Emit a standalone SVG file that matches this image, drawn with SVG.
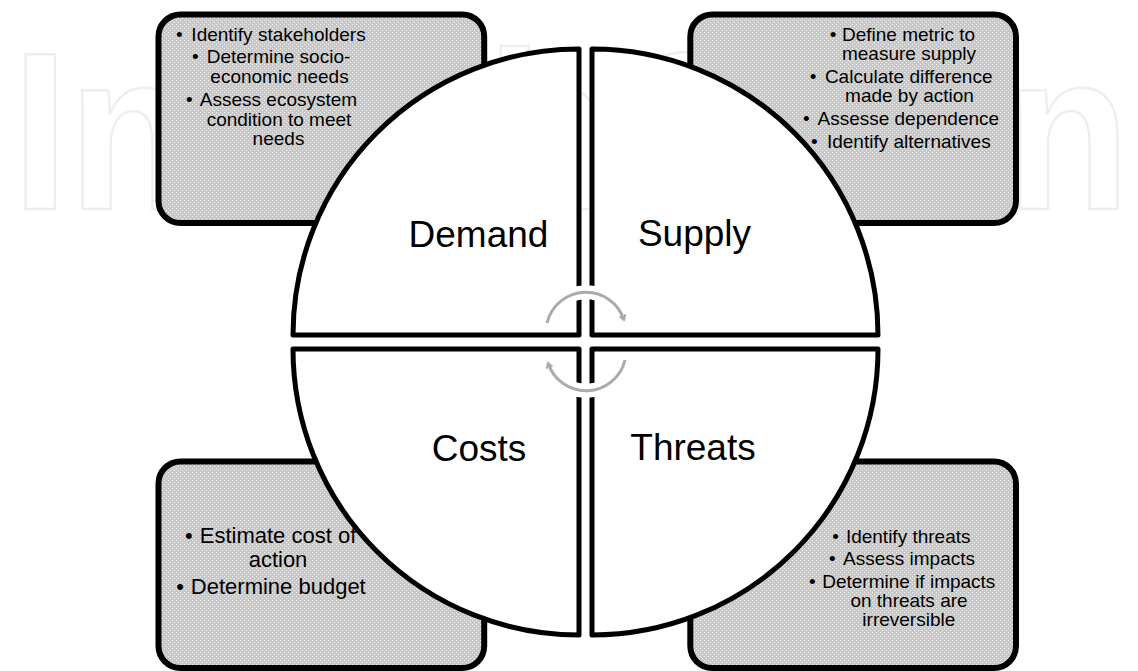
<svg xmlns="http://www.w3.org/2000/svg" width="1138" height="671" viewBox="0 0 1138 671">
<style>
.wm{font-family:"Liberation Sans",Arial,sans-serif;font-weight:bold;font-size:225px;fill:none;stroke:#eeeeee;stroke-width:2.5}
.box{fill:url(#dots);stroke:#000;stroke-width:6}
.pie{fill:#fff;stroke:#000;stroke-width:5;stroke-linejoin:round}
.lbl{font-family:"Liberation Sans",Arial,sans-serif;font-size:37px;fill:#000;text-anchor:middle}
.t{font-family:"Liberation Sans",Arial,sans-serif;font-size:19px;fill:#000;text-anchor:middle}
.t2{font-family:"Liberation Sans",Arial,sans-serif;font-size:22px;fill:#000;text-anchor:middle}
.halo{fill:none;stroke:#fff;stroke-width:14}
.arc{fill:none;stroke:#ababab;stroke-width:3}
</style>
<defs>
<pattern id="dots" width="4" height="4" patternUnits="userSpaceOnUse">
<rect width="4" height="4" fill="#c8c8c8"/>
<rect x="0" y="0" width="1" height="1" fill="#f2f2f2"/>
<rect x="2" y="2" width="1" height="1" fill="#f2f2f2"/>
</pattern>
<marker id="ah" viewBox="0 0 8 8" refX="6" refY="4" markerWidth="8" markerHeight="8" markerUnits="userSpaceOnUse" orient="auto">
<path d="M1,1 L6,4 L1,7" fill="none" stroke="#ababab" stroke-width="2"/>
</marker>
</defs>
<rect width="1138" height="671" fill="#fff"/>
<text class="wm" x="12" y="209" textLength="1118" lengthAdjust="spacingAndGlyphs">IntechOpen</text>

<g id="box-demand">
<rect class="box" x="158.5" y="14.5" width="325.7" height="208.5" rx="22"/>
<text class="t" y="40.7"><tspan x="179.3">•</tspan><tspan x="278.5">Identify stakeholders</tspan></text>
<text class="t" y="63.3"><tspan x="195.3">•</tspan><tspan x="278.5">Determine socio-</tspan></text>
<text class="t" x="279.5" y="82.7">economic needs</text>
<text class="t" y="106"><tspan x="189.3">•</tspan><tspan x="278.5">Assess ecosystem</tspan></text>
<text class="t" x="279" y="125.5">condition to meet</text>
<text class="t" x="278.5" y="145">needs</text>
</g>
<g id="box-supply">
<rect class="box" x="690.3" y="14.5" width="325.7" height="208.5" rx="22"/>
<text class="t" y="40.7"><tspan x="833">•</tspan><tspan x="908.5">Define metric to</tspan></text>
<text class="t" x="909" y="60">measure supply</text>
<text class="t" y="82.7"><tspan x="813">•</tspan><tspan x="908.7">Calculate difference</tspan></text>
<text class="t" x="909.5" y="101.7">made by action</text>
<text class="t" y="125"><tspan x="806.3">•</tspan><tspan x="908.3">Assesse dependence</tspan></text>
<text class="t" y="148.3"><tspan x="814.3">•</tspan><tspan x="908.8">Identify alternatives</tspan></text>
</g>
<g id="box-costs">
<rect class="box" x="158.5" y="461.5" width="325.7" height="206.5" rx="22"/>
<text class="t2" y="543.3"><tspan x="188.8">•</tspan><tspan x="278">Estimate cost of</tspan></text>
<text class="t2" x="278" y="566.7">action</text>
<text class="t2" y="594"><tspan x="180.1">•</tspan><tspan x="278.3">Determine budget</tspan></text>
</g>
<g id="box-threats">
<rect class="box" x="690.3" y="461.5" width="325.7" height="206.5" rx="22"/>
<text class="t" y="542.7"><tspan x="835.6">•</tspan><tspan x="908.2">Identify threats</tspan></text>
<text class="t" y="564.5"><tspan x="832.3">•</tspan><tspan x="909">Assess impacts</tspan></text>
<text class="t" y="587.7"><tspan x="812.3">•</tspan><tspan x="908.8">Determine if impacts</tspan></text>
<text class="t" x="909" y="607.3">on threats are</text>
<text class="t" x="908.8" y="626">irreversible</text>
</g>

<g id="demand">
<path class="pie" d="M579,335 L293,335 A286,286 0 0 1 579,49 Z"/>
<text class="lbl" x="478.5" y="247">Demand</text>
</g>
<g id="supply">
<path class="pie" d="M592,335 L592,49 A286,286 0 0 1 878,335 Z"/>
<text class="lbl" x="694.5" y="246">Supply</text>
</g>
<g id="costs">
<path class="pie" d="M579,349 L579,635 A286,286 0 0 1 293,349 Z"/>
<text class="lbl" x="479" y="461">Costs</text>
</g>
<g id="threats">
<path class="pie" d="M592,349 L878,349 A286,286 0 0 1 592,635 Z"/>
<text class="lbl" x="693" y="460">Threats</text>
</g>

<g id="connectors">
<path class="halo" d="M547,323 A40,40 0 0 1 624,320"/>
<path class="halo" d="M625,360 A40,40 0 0 1 548,363"/>
<path class="arc" d="M547,323 A40,40 0 0 1 624,320" marker-end="url(#ah)"/>
<path class="arc" d="M625,360 A40,40 0 0 1 548,363" marker-end="url(#ah)"/>
</g>
</svg>
